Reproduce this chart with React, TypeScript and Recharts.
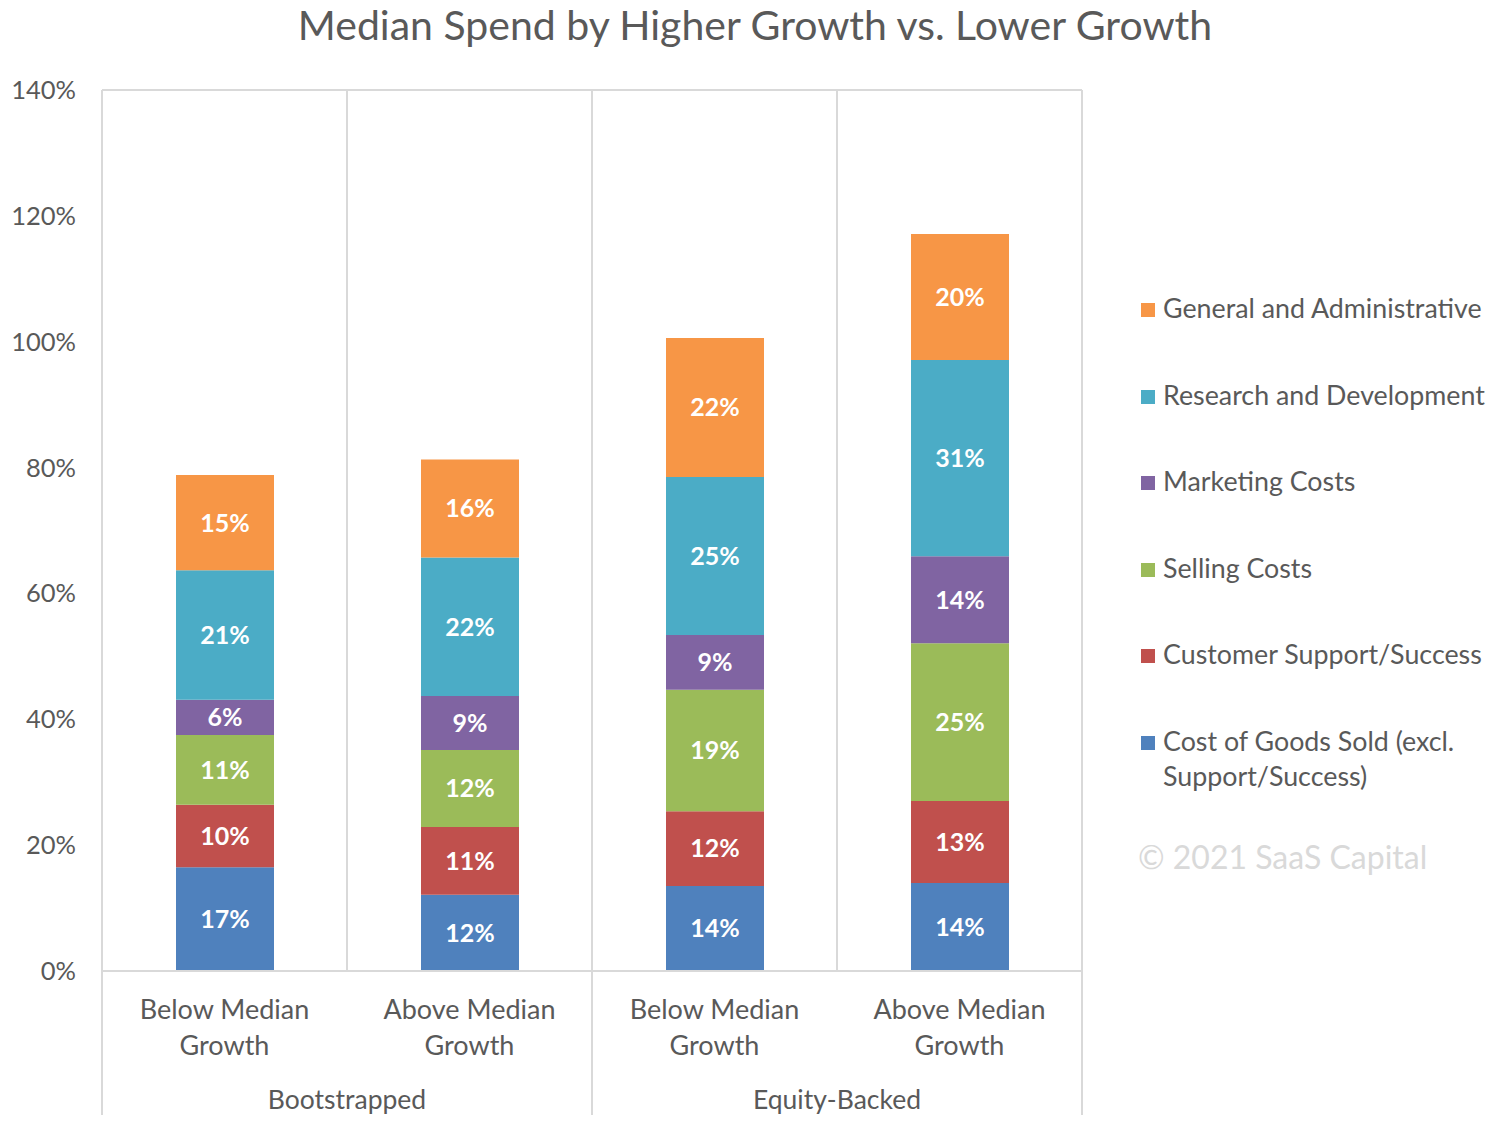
import React from 'react';
import { BarChart, Bar, XAxis, YAxis, CartesianGrid, LabelList } from 'recharts';

const categories = ['Below Median Growth', 'Above Median Growth', 'Below Median Growth', 'Above Median Growth'];
const groups = ['Bootstrapped', 'Bootstrapped', 'Equity-Backed', 'Equity-Backed'];

// values in % of revenue, bottom to top of each stack
const cogs = [16.5, 12.1, 13.5, 14.0];
const support = [9.9, 10.8, 11.9, 13.0];
const selling = [11.1, 12.2, 19.3, 25.1];
const marketing = [5.6, 8.6, 8.7, 13.8];
const rnd = [20.6, 22.0, 25.1, 31.2];
const ga = [15.1, 15.6, 22.1, 20.0];

const yTicks = [0, 20, 40, 60, 80, 100, 120, 140];

const series = [
  { key: 'cogs', name: 'Cost of Goods Sold (excl. Support/Success)', values: cogs, color: '#4F81BD' },
  { key: 'support', name: 'Customer Support/Success', values: support, color: '#C0504D' },
  { key: 'selling', name: 'Selling Costs', values: selling, color: '#9BBB59' },
  { key: 'marketing', name: 'Marketing Costs', values: marketing, color: '#8064A2' },
  { key: 'rnd', name: 'Research and Development', values: rnd, color: '#4BACC6' },
  { key: 'ga', name: 'General and Administrative', values: ga, color: '#F79646' },
];

const data = categories.map((name, i) => {
  const row: Record<string, string | number> = { name, group: groups[i], idx: i };
  series.forEach((s) => {
    row[s.key] = s.values[i];
  });
  return row;
});

const FONT = 'Lato, "Open Sans", sans-serif';
const TEXT = '#595959';
const GRID = '#D9D9D9';
const BAND = 245;

const CategoryTick = (props: any) => {
  const { x, y, payload } = props;
  const i = payload.index;
  const words = String(payload.value).split(' ');
  const line1 = words.slice(0, 2).join(' ');
  const line2 = words.slice(2).join(' ');
  return (
    <g>
      <text x={x} y={y + 37} textAnchor="middle" dominantBaseline="central" fill={TEXT} fontSize={27} fontFamily={FONT}>
        {line1}
      </text>
      <text x={x} y={y + 73} textAnchor="middle" dominantBaseline="central" fill={TEXT} fontSize={27} fontFamily={FONT}>
        {line2}
      </text>
      {i % 2 === 0 && (
        <>
          <line x1={x - BAND / 2} x2={x - BAND / 2} y1={y} y2={y + 144} stroke={GRID} strokeWidth={2} />
          <text x={x + BAND / 2} y={y + 128} textAnchor="middle" dominantBaseline="central" fill={TEXT} fontSize={26.5} fontFamily={FONT}>
            {groups[i]}
          </text>
        </>
      )}
      {i === categories.length - 1 && (
        <line x1={x + BAND / 2} x2={x + BAND / 2} y1={y} y2={y + 144} stroke={GRID} strokeWidth={2} />
      )}
    </g>
  );
};

const legendOrder = [...series].reverse();

export default function App() {
  return (
    <div style={{ position: 'relative', width: 1490, height: 1126, background: '#fff', fontFamily: FONT }}>
      <div
        style={{
          position: 'absolute',
          left: 0,
          width: 1494,
          top: -7,
          textAlign: 'center',
          fontSize: 41,
          color: TEXT,
          lineHeight: '48px',
        }}
      >
        Median Spend by Higher Growth vs. Lower Growth
      </div>
      <BarChart width={1490} height={1126} data={data} margin={{ top: 82, right: 416, left: 0, bottom: 0 }}>
        <CartesianGrid
          stroke={GRID}
          strokeWidth={2}
          horizontalCoordinatesGenerator={({ offset }: any) => [offset.top]}
          verticalCoordinatesGenerator={({ offset }: any) =>
            [0, 1, 2, 3, 4].map((k) => offset.left + (k * offset.width) / 4)
          }
        />
        <XAxis
          dataKey="name"
          height={163}
          interval={0}
          tickLine={false}
          tickSize={0}
          tickMargin={0}
          axisLine={{ stroke: GRID, strokeWidth: 2 }}
          tick={<CategoryTick />}
        />
        <YAxis
          width={94}
          domain={[0, 140]}
          ticks={yTicks}
          interval={0}
          axisLine={false}
          tickLine={false}
          tickSize={0}
          tickMargin={26}
          tickFormatter={(v: number) => `${v}%`}
          tick={{ fill: TEXT, fontSize: 25.5, fontFamily: FONT }}
        />
        {series.map((s) => (
          <Bar key={s.key} dataKey={s.key} name={s.name} stackId="a" fill={s.color} barSize={98} isAnimationActive={false}>
            <LabelList
              dataKey={s.key}
              position="center"
              formatter={(v: any) => `${Math.round(Number(v))}%`}
              fill="#fff"
              fontSize={25}
              fontWeight={700}
              fontFamily={FONT}
            />
          </Bar>
        ))}
      </BarChart>
      <div style={{ position: 'absolute', left: 1133, top: 283, color: TEXT, fontSize: 26.8 }}>
        {legendOrder.map((s) => (
          <div key={s.key} style={{ display: 'flex', alignItems: 'flex-start', height: 86.5, lineHeight: '35px' }}>
            <span
              style={{
                display: 'inline-block',
                width: 14,
                height: 14,
                background: s.color,
                marginTop: 12,
                marginRight: 8,
                flex: '0 0 auto',
              }}
            />
            <span style={{ width: 330 }}>{s.name}</span>
          </div>
        ))}
        <div style={{ marginTop: 27, color: '#D9D9D9', fontSize: 32, lineHeight: '40px', marginLeft: -3 }}>
          © 2021 SaaS Capital
        </div>
      </div>
    </div>
  );
}
